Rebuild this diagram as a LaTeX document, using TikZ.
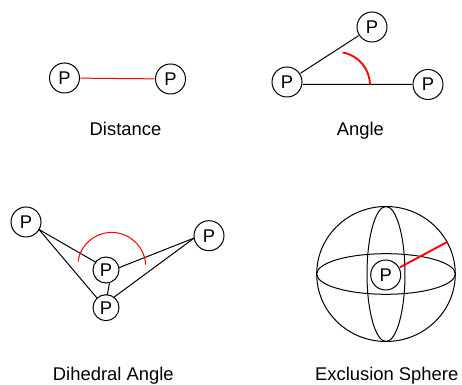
\documentclass[tikz,border=0pt]{standalone}
\usepackage{fontspec}
\setmainfont{Liberation Sans}
\usetikzlibrary{positioning}
\definecolor{bondRed}{RGB}{255,0,0}
\tikzset{
  atomNode/.style={circle,draw,line width=0.75pt,minimum size=22.5pt,inner sep=0pt,outer sep=0.75pt,font=\fontsize{13.8}{15}\selectfont},
  smallAtom/.style={atomNode,minimum size=19.5pt,outer sep=0pt},
  capLabel/.style={font=\fontsize{13.8}{15}\selectfont,inner sep=0pt,anchor=base},
  bondLine/.style={line width=0.75pt},
  redThin/.style={bondRed,line width=0.75pt},
  redThick/.style={bondRed,line width=1.4pt}
}

\begin{document}
\begin{tikzpicture}[x=0.75pt,y=0.75pt]
    \useasboundingbox (0,0) rectangle (462,385);
    % distance
    \node[atomNode] (distLeft) at (64.5,307) {P};
    \node[atomNode] (distRight) at (170.5,306) {P};
    \draw[redThin] (distLeft) -- (distRight);
    % angle
    \node[atomNode] (angTop) at (372,358) {P};
    \node[atomNode] (angMid) at (287,303) {P};
    \node[atomNode] (angEnd) at (428,300.5) {P};
    \draw[bondLine] (angMid) -- (angTop);
    \draw[bondLine] (angMid.-9) -- (angEnd.west);
    \coordinate (angStart) at (342.7,332.5);
    \draw[redThick] (angStart) arc (80:0:33);
    % dihedral angle
    \node[atomNode,outer sep=0pt] (diLeft) at (26,163) {P};
    \node[atomNode,outer sep=0pt] (diRight) at (209,149.3) {P};
    \node[smallAtom] (diMid) at (106,115) {P};
    \node[smallAtom] (diLow) at (106,77.3) {P};
    \foreach \a/\b in {diLeft.-30/diMid.143,diLeft.-30/diLow.133,diRight.189/diMid.10,
                       diRight.189/diLow.53,diMid.-74/diLow.84}
      {\draw[bondLine] (\a) -- (\b);}
    \coordinate (diArc) at (78,123.3);
    \draw[redThin] (diArc) arc (172:3:34);
    % exclusion sphere
    \coordinate (sphereMid) at (386,111);
    \draw[bondLine] (sphereMid) circle [x radius=69.3,y radius=67.5];
    \draw[bondLine] (sphereMid) circle [x radius=69.3,y radius=20.3];
    \draw[bondLine] (sphereMid) circle [x radius=19,y radius=67.5];
    \node[atomNode] (sphereAtom) at (385.7,110) {P};
    \coordinate (sphereRim) at (447.7,143.3);
    \draw[redThick] (sphereAtom) -- (sphereRim);
    % captions
    \node[capLabel] (capDist) at (125.5,249) {Distance};
    \node[capLabel] (capAng) at (360.3,249) {Angle};
    \node[capLabel] (capDi) at (113.3,4) {Dihedral Angle};
    \node[capLabel] (capSphere) at (386.7,4) {Exclusion Sphere};
\end{tikzpicture}
\end{document}
